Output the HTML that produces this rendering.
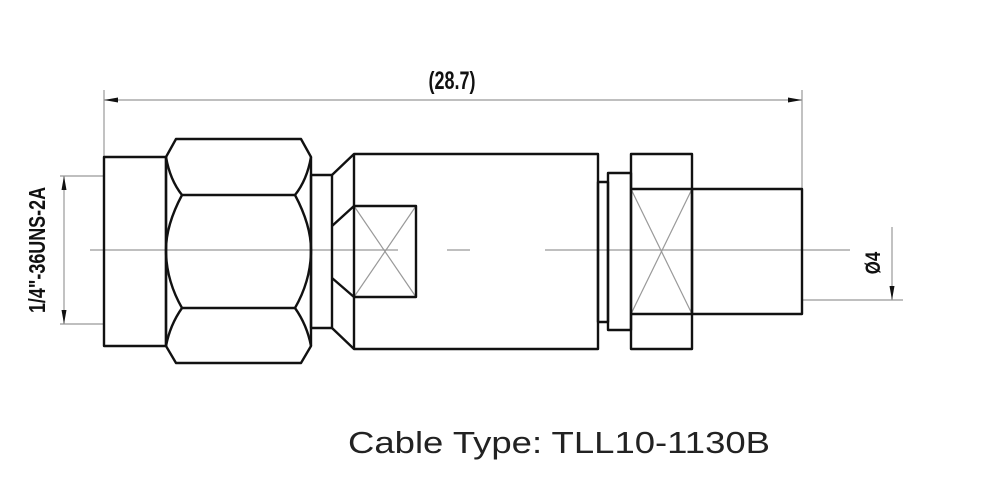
<!DOCTYPE html>
<html><head><meta charset="utf-8"><style>
html,body{margin:0;padding:0;background:#fff;width:1000px;height:488px;overflow:hidden}
</style></head><body>
<svg width="1000" height="488" viewBox="0 0 1000 488" xmlns="http://www.w3.org/2000/svg">
<g stroke="#999" stroke-width="1.2" fill="none">
<line x1="104" y1="90" x2="104" y2="157"/>
<line x1="802" y1="90" x2="802" y2="189"/>
<line x1="104" y1="100" x2="802" y2="100"/>
<line x1="60" y1="176" x2="104" y2="176"/>
<line x1="60" y1="324" x2="104" y2="324"/>
<line x1="64" y1="176" x2="64" y2="324"/>
<line x1="802" y1="300" x2="903" y2="300"/>
<line x1="892" y1="227" x2="892" y2="300"/>
<line x1="90" y1="250" x2="398" y2="250"/>
<line x1="447" y1="250" x2="470" y2="250"/>
<line x1="545" y1="250" x2="850" y2="250"/>
<line x1="354" y1="206" x2="416" y2="297"/>
<line x1="354" y1="297" x2="416" y2="206"/>
<line x1="631" y1="189" x2="692" y2="314"/>
<line x1="631" y1="314" x2="692" y2="189"/>
</g>
<g fill="#111">
<polygon points="104,100 118,97.5 118,102.5"/>
<polygon points="802,100 788,97.5 788,102.5"/>
<polygon points="64,176 61.5,190 66.5,190"/>
<polygon points="64,324 61.5,310 66.5,310"/>
<polygon points="892,300 889.5,286 894.5,286"/>
</g>
<g stroke="#111" stroke-width="2.4" fill="none" stroke-linejoin="round">
<rect x="104" y="157" width="62" height="189"/>
<polygon points="176,139 301,139 311,157 311,346 301,363 176,363 166,346 166,157"/>
<line x1="182" y1="195" x2="295" y2="195"/>
<line x1="182" y1="308" x2="295" y2="308"/>
<path d="M166,157 Q170,180 182,195 Q166,225 166,250 Q166,280 182,308 Q170,325 166,346"/>
<path d="M311,157 Q307,180 295,195 Q311,225 311,250 Q311,280 295,308 Q307,325 311,346"/>
<rect x="311" y="175" width="21" height="153"/>
<polyline points="332,175 354,154 598,154 598,349 354,349 332,328"/>
<line x1="354" y1="154" x2="354" y2="349"/>
<polyline points="332,226 354,206 416,206 416,297 354,297 332,278"/>
<rect x="598" y="182" width="10" height="140"/>
<rect x="608" y="173" width="23" height="157"/>
<rect x="631" y="154" width="61" height="195"/>
<line x1="631" y1="189" x2="692" y2="189"/>
<line x1="631" y1="314" x2="692" y2="314"/>
<rect x="692" y="189" width="110" height="125"/>
</g>
<g font-family="Liberation Sans Narrow, Liberation Sans, sans-serif" font-weight="bold" fill="#111">
<text x="0" y="0" font-size="25" text-anchor="middle" transform="translate(452 89) scale(0.72 1)">(28.7)</text>
<text x="0" y="0" font-size="23" text-anchor="middle" transform="translate(45 250) rotate(-90) scale(0.78 1)">1/4"-36UNS-2A</text>
<text x="0" y="0" font-size="21" text-anchor="middle" transform="translate(880 263) rotate(-90) scale(0.8 1)">Ø4</text>
</g>
<text x="348" y="453" font-family="Liberation Sans, sans-serif" font-size="31" fill="#222" textLength="422" lengthAdjust="spacingAndGlyphs">Cable Type: TLL10-1130B</text>
</svg>
</body></html>
